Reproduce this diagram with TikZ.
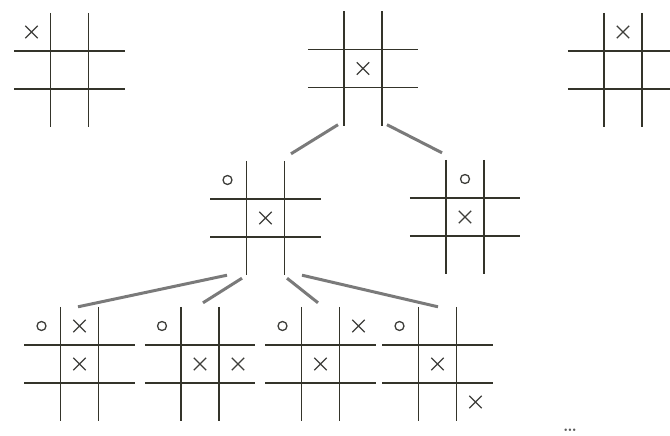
\documentclass[tikz,border=0pt]{standalone}
\usepackage{xcolor}
\usetikzlibrary{positioning, calc, shapes.misc}
\definecolor{gridink}{RGB}{52,52,42}
\definecolor{markink}{RGB}{62,62,58}
\definecolor{linkgray}{RGB}{122,122,122}
\definecolor{dotgray}{RGB}{90,90,90}
\tikzset{
  board/.style   ={rectangle, inner sep=0pt, minimum width=110pt, minimum height=114pt},
  gridline/.style={line width=1.8pt, color=gridink},
  xmark/.style   ={cross out, draw=markink, line width=1.4pt, minimum size=11pt, inner sep=0pt},
  omark/.style   ={circle, draw=markink, line width=1.3pt, minimum size=9pt, inner sep=0pt},
  link/.style    ={line width=3pt, color=linkgray},
  dotlabel/.style={font=\LARGE\bfseries, color=dotgray, inner sep=0pt},
}

\begin{document}
\begin{tikzpicture}[x=1pt, y=-1pt]
\useasboundingbox (0,0) rectangle (670,436);

\node[board] (top1) at (69.5, 70) {};
\node[board] (top2) at (363, 68.5) {};
\node[board] (top3) at (623, 70) {};
\node[board] (mid1) at (265.5, 218) {};
\node[board] (mid2) at (465, 217) {};
\node[board] (bot1) at (79.5, 364) {};
\node[board] (bot2) at (200, 364) {};
\node[board] (bot3) at (320.5, 364) {};
\node[board] (bot4) at (437.5, 364) {};

\foreach \b in {top1, top2, top3, mid1, mid2, bot1, bot2, bot3, bot4} {
  \draw[gridline] ($(\b.north)+(-19,0)$) -- ($(\b.south)+(-19,0)$);
  \draw[gridline] ($(\b.north)+(19,0)$) -- ($(\b.south)+(19,0)$);
  \draw[gridline] ($(\b.west)+(0,-19)$) -- ($(\b.east)+(0,-19)$);
  \draw[gridline] ($(\b.west)+(0,19)$) -- ($(\b.east)+(0,19)$);
}

\node[xmark] (top1a) at ($(top1)+(-38,-38)$) {};
\node[xmark] (top2a) at (top2) {};
\node[xmark] (top3a) at ($(top3)+(0,-38)$) {};

\node[omark] (mid1o) at ($(mid1)+(-38,-38)$) {};
\node[xmark] (mid1a) at (mid1) {};
\node[omark] (mid2o) at ($(mid2)+(0,-38)$) {};
\node[xmark] (mid2a) at (mid2) {};

\node[omark] (bot1o) at ($(bot1)+(-38,-38)$) {};
\node[xmark] (bot1a) at ($(bot1)+(0,-38)$) {};
\node[xmark] (bot1b) at (bot1) {};
\node[omark] (bot2o) at ($(bot2)+(-38,-38)$) {};
\node[xmark] (bot2a) at (bot2) {};
\node[xmark] (bot2b) at ($(bot2)+(38,0)$) {};
\node[omark] (bot3o) at ($(bot3)+(-38,-38)$) {};
\node[xmark] (bot3a) at ($(bot3)+(38,-38)$) {};
\node[xmark] (bot3b) at (bot3) {};
\node[omark] (bot4o) at ($(bot4)+(-38,-38)$) {};
\node[xmark] (bot4a) at (bot4) {};
\node[xmark] (bot4b) at ($(bot4)+(38,38)$) {};

\node[dotlabel] (more) at (570, 430) {\ldots};

\draw[link] ($(top2.south)+(-25,-1)$) -- ($(mid1.north)+(25.5,-7)$);
\draw[link] ($(top2.south)+(24,-1)$) -- ($(mid2.north)+(-23,-7)$);

\draw[link] ($(mid1.south)+(-38.5,0)$) -- ($(bot1.north)+(-1.5,0)$);
\draw[link] ($(mid1.south)+(-23.5,3)$) -- ($(bot2.north)+(3,-4)$);
\draw[link] ($(mid1.south)+(21.5,3)$) -- ($(bot3.north)+(-2.5,-4)$);
\draw[link] ($(mid1.south)+(36.5,0)$) -- ($(bot4.north)+(0.5,0)$);
\end{tikzpicture}
\end{document}
